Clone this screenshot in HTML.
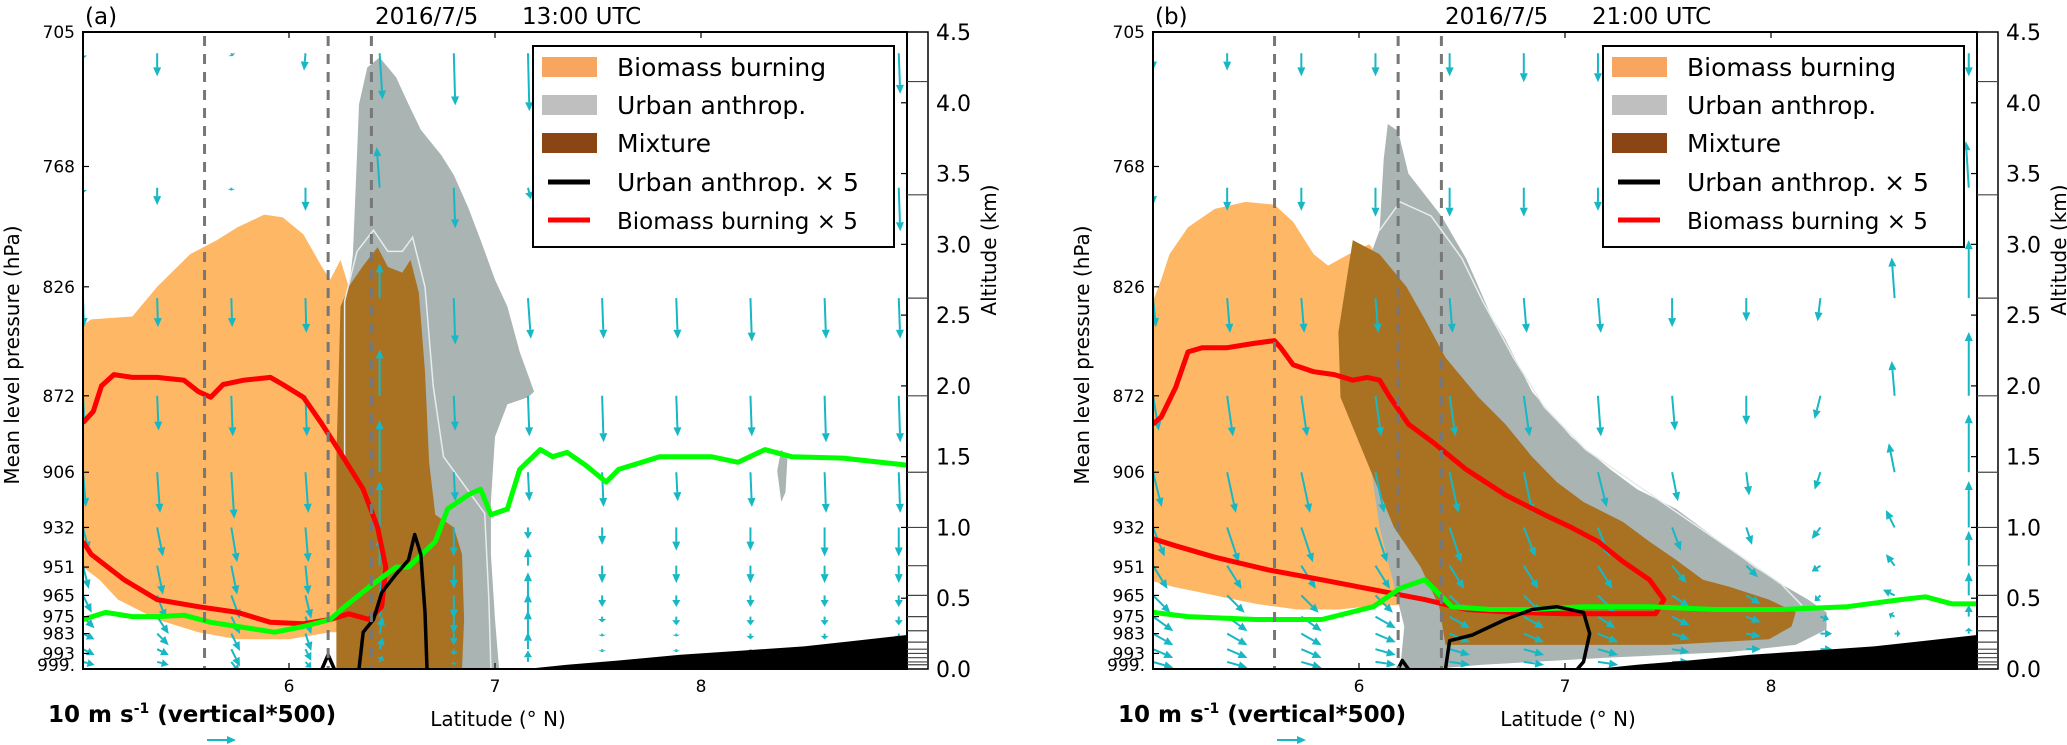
<!DOCTYPE html>
<html><head><meta charset="utf-8"><style>
html,body{margin:0;padding:0;background:#fff;}
svg{display:block;font-family:"DejaVu Sans","Liberation Sans",sans-serif;}
</style></head><body>
<svg id="fig" width="2067" height="745" viewBox="0 0 2067 745" xmlns="http://www.w3.org/2000/svg"></svg>
<script>
// ---------- data ----------
const pressureLabels = ["705","768","826","872","906","932","951","965","975","983","993","999."];
const pressureAlts = [4.5,3.55,2.70,1.93,1.39,1.0,0.72,0.52,0.37,0.25,0.11,0.0];
const altTicks = [0,0.5,1,1.5,2,2.5,3,3.5,4,4.5];
const altTickLabels = ["0.0","0.5","1.0","1.5","2.0","2.5","3.0","3.5","4.0","4.5"];
const latTicks = [6,7,8];
const modelLevels = [4.15,3.35,2.62,1.93,1.39,1.0,0.73,0.52,0.37,0.27,0.19,0.14,0.11,0.08,0.05,0.03];
const dashedLats = [5.59,6.19,6.40];
const windLats = [5.0,5.36,5.72,6.08,6.44,6.80,7.16,7.52,7.88,8.24,8.60,8.96];
const windAlts = [4.35,3.40,2.62,1.93,1.39,1.0,0.73,0.52,0.37,0.25,0.14,0.05];
const terrain = [[7.15,0],[7.35,0.03],[7.6,0.06],[7.9,0.10],[8.2,0.13],[8.5,0.16],[8.75,0.20],[9.0,0.24],[9.0,0]];

// panel a
const aOrange = [[5.0,2.43],[5.04,2.47],[5.24,2.49],[5.36,2.70],[5.52,2.93],[5.65,3.03],[5.75,3.12],[5.88,3.21],[5.97,3.19],[6.07,3.07],[6.16,2.84],[6.20,2.75],[6.25,2.89],[6.29,2.70],[6.31,2.29],[6.28,1.5],[6.27,0.26],[6.20,0.26],[6.0,0.21],[5.75,0.21],[5.56,0.26],[5.36,0.35],[5.17,0.49],[5.08,0.63],[5.0,0.72]];
const aGray = [[6.24,0],[6.26,1.5],[6.28,2.56],[6.31,2.93],[6.33,3.63],[6.34,3.99],[6.38,4.25],[6.44,4.32],[6.52,4.18],[6.58,3.99],[6.64,3.81],[6.74,3.63],[6.80,3.49],[6.87,3.26],[6.93,3.03],[7.00,2.75],[7.06,2.56],[7.12,2.24],[7.19,1.96],[7.16,1.92],[7.06,1.87],[7.00,1.64],[6.98,1.18],[6.98,0.81],[7.00,0.35],[7.02,0]];
const aGrayBlob = [[8.37,1.40],[8.39,1.55],[8.42,1.50],[8.41,1.25],[8.39,1.18]];
const aBrown = [[6.23,0],[6.23,1.5],[6.25,2.56],[6.29,2.70],[6.36,2.85],[6.43,2.98],[6.48,2.84],[6.55,2.80],[6.59,2.89],[6.63,2.66],[6.66,2.10],[6.68,1.46],[6.71,1.09],[6.80,1.00],[6.84,0.81],[6.85,0.35],[6.84,0]];
const aWhite = [[6.27,1.5],[6.27,2.6],[6.33,2.95],[6.41,3.1],[6.48,2.95],[6.55,2.95],[6.60,3.05],[6.66,2.7],[6.70,2.0],[6.75,1.5],[6.85,1.3],[6.95,1.1],[6.97,0.5],[6.98,0]];
const aRed = [[5.0,1.74],[5.05,1.82],[5.09,2.0],[5.15,2.08],[5.24,2.06],[5.36,2.06],[5.49,2.04],[5.56,1.96],[5.62,1.92],[5.68,2.01],[5.78,2.04],[5.91,2.06],[5.97,2.01],[6.07,1.92],[6.16,1.73],[6.24,1.55],[6.36,1.27],[6.43,1.0],[6.47,0.72],[6.45,0.44],[6.39,0.35],[6.29,0.39],[6.20,0.35],[6.07,0.32],[5.91,0.33],[5.75,0.40],[5.56,0.44],[5.36,0.49],[5.20,0.63],[5.04,0.81],[5.0,0.90]];
const aGreen = [[5.0,0.35],[5.11,0.40],[5.24,0.37],[5.36,0.37],[5.49,0.38],[5.62,0.33],[5.75,0.30],[5.93,0.26],[6.07,0.30],[6.20,0.35],[6.27,0.44],[6.39,0.58],[6.52,0.72],[6.58,0.72],[6.71,0.90],[6.77,1.13],[6.87,1.23],[6.93,1.27],[6.98,1.09],[7.06,1.13],[7.12,1.41],[7.22,1.55],[7.28,1.50],[7.35,1.53],[7.44,1.44],[7.54,1.32],[7.60,1.41],[7.80,1.50],[7.92,1.50],[8.05,1.50],[8.18,1.46],[8.31,1.55],[8.44,1.50],[8.69,1.49],[9.0,1.44]];
const aBlack1 = [[6.16,0],[6.19,0.10],[6.22,0]];
const aBlack2 = [[6.34,0],[6.36,0.26],[6.41,0.35],[6.45,0.54],[6.52,0.67],[6.58,0.77],[6.61,0.95],[6.64,0.81],[6.66,0.40],[6.67,0]];
const aWindW = [
[-2,-8,-1,-6,-16,-18,-20,-18,-17,-16,-16,-14],
[-2,-6,-1,-8,14,-14,-4,-12,-12,-14,-14,-15],
[-10,-10,-10,-12,12,-16,-14,-14,-14,-15,-14,-14],
[-10,-12,-14,-14,16,-12,-14,-16,-14,-14,-16,-16],
[-12,-14,-16,-14,18,-10,-10,-12,-10,-12,-14,-14],
[-8,-10,-12,-12,16,-10,-4,-6,-8,-8,-10,-10],
[-8,-10,-10,-10,10,-8,6,-6,-6,-6,-6,-6],
[-6,-8,-8,-8,8,-8,8,-4,-4,-4,-4,-4],
[-4,-6,-6,-6,6,-6,8,-2,-3,-3,-3,-3],
[-2,-4,-6,-6,6,-4,8,-1,-1,-2,-2,-2],
[-2,-2,-6,-4,4,-2,6,-1,-1,-1,-1,-1],
[-1,-1,-4,-2,2,-1,4,0,0,0,0,0]];
const aWindU = [
[0,0,0.5,-0.5,1,0.5,0.5,0.5,0.5,0.5,0.5,0.5],
[0,0,0,0,-1,0.5,1,0.5,0.5,0.5,0.5,0.5],
[0.3,0.3,0.3,0.3,0,0.5,1,0.5,0.5,0.5,0.5,0.5],
[0.5,0.5,0.5,0.5,0,0.5,0.5,0.5,0.5,0.5,0.5,0.5],
[1,1,1,1,0,0.5,0.5,0.5,0.5,0.5,0.5,0.5],
[2,2,2,1,0,0,0,0,0,0,0,0],
[2,2,2,1,0,0,0,0,0,0,0,0],
[3,3,3,2,1,0,0,0,0,0,0,0],
[4,4,3,2,1,0,0,0,0,0,0,0],
[4,4,3,2,1,0,0,0,0,0,0,0],
[4,4,3,2,1,0,0,0,0,0,0,0],
[4,4,3,2,1,0,0,0,0,0,0,0]];

// panel b
const bOrange = [[5.0,2.6],[5.04,2.75],[5.08,2.93],[5.17,3.12],[5.30,3.25],[5.45,3.30],[5.59,3.28],[5.68,3.16],[5.78,2.93],[5.85,2.85],[5.95,2.93],[6.05,3.0],[6.10,2.9],[6.2,2.5],[6.3,1.5],[6.4,0.8],[6.35,0.45],[6.1,0.45],[5.9,0.42],[5.7,0.42],[5.5,0.46],[5.3,0.52],[5.1,0.58],[5.0,0.62]];
const bGray = [[6.05,2.9],[6.10,3.1],[6.12,3.6],[6.14,3.85],[6.19,3.8],[6.24,3.5],[6.32,3.35],[6.40,3.2],[6.52,2.9],[6.58,2.7],[6.64,2.5],[6.71,2.33],[6.84,1.96],[7.03,1.64],[7.22,1.41],[7.35,1.27],[7.54,1.13],[7.67,0.99],[7.80,0.85],[7.92,0.72],[8.05,0.6],[8.18,0.49],[8.27,0.40],[8.27,0.28],[8.12,0.17],[7.80,0.12],[7.2,0.08],[6.6,0.03],[6.35,0],[6.20,0],[6.22,0.3],[6.1,1.0],[6.0,2.0]];
const bBrown = [[5.97,3.03],[6.10,2.93],[6.23,2.70],[6.32,2.47],[6.42,2.20],[6.58,1.92],[6.71,1.73],[6.84,1.50],[6.96,1.32],[7.09,1.18],[7.28,1.04],[7.41,0.90],[7.54,0.77],[7.67,0.63],[7.80,0.58],[7.99,0.49],[8.12,0.40],[8.1,0.3],[7.99,0.21],[7.5,0.17],[7.09,0.17],[6.42,0.17],[6.39,0.44],[6.30,0.72],[6.17,1.0],[6.04,1.46],[5.91,1.92],[5.90,2.38]];
const bWhite = [[6.1,3.1],[6.2,3.3],[6.35,3.2],[6.5,2.9],[6.6,2.6],[6.75,2.2],[6.9,1.85],[7.1,1.55],[7.35,1.3],[7.6,1.05],[7.85,0.8],[8.05,0.6],[8.15,0.45]];
const bRed = [[5.0,1.73],[5.04,1.78],[5.11,1.99],[5.17,2.24],[5.24,2.27],[5.36,2.27],[5.49,2.30],[5.59,2.32],[5.62,2.27],[5.68,2.15],[5.78,2.10],[5.88,2.08],[5.97,2.04],[6.04,2.06],[6.10,2.04],[6.15,1.92],[6.24,1.73],[6.36,1.60],[6.52,1.41],[6.71,1.23],[6.90,1.09],[7.03,1.0],[7.16,0.90],[7.28,0.76],[7.41,0.63],[7.48,0.49],[7.44,0.39],[7.28,0.39],[7.0,0.39],[6.75,0.40],[6.52,0.42],[6.32,0.49],[6.07,0.56],[5.82,0.63],[5.56,0.70],[5.30,0.79],[5.11,0.87],[5.0,0.92]];
const bGreen = [[5.0,0.40],[5.17,0.37],[5.5,0.35],[5.82,0.35],[6.07,0.44],[6.20,0.57],[6.32,0.63],[6.45,0.44],[6.64,0.42],[6.84,0.42],[7.09,0.44],[7.41,0.44],[7.73,0.42],[8.05,0.42],[8.37,0.44],[8.63,0.49],[8.75,0.51],[8.88,0.46],[9.0,0.46]];
const bBlack1 = [[6.19,0],[6.21,0.06],[6.24,0]];
const bBlack2 = [[6.42,0],[6.44,0.2],[6.55,0.24],[6.71,0.35],[6.84,0.42],[6.96,0.44],[7.09,0.40],[7.12,0.25],[7.09,0.05],[7.06,0]];
const bWindW = [
[-6,-6,-8,-8,-8,-10,-10,-8,-6,-6,-6,-8],
[-6,-8,-8,-10,-10,-10,-8,-6,-4,-4,-6,16],
[-10,-12,-12,-12,-12,-12,-12,-10,-8,-8,14,20],
[-12,-14,-14,-14,-14,-14,-14,-12,-10,-8,12,22],
[-12,-14,-14,-14,-14,-14,-12,-10,-8,-6,10,20],
[-10,-12,-12,-12,-12,-10,-10,-8,-6,-4,6,16],
[-8,-8,-8,-8,-8,-8,-8,-6,-4,-2,4,12],
[-6,-6,-6,-6,-6,-6,-6,-4,-3,-2,2,8],
[-5,-5,-5,-4,-4,-4,-4,-3,-2,-1,1,4],
[-4,-4,-4,-3,-3,-3,-3,-2,-1,0,0,2],
[-3,-3,-3,-2,-2,-2,-2,-1,0,0,0,1],
[-2,-2,-2,-1,-1,-1,-1,0,0,0,0,0]];
const bWindU = [
[0,0,0,0,0,0,0,0,0,0,0,0],
[0,0,0,0,0,0,0,0,0,0,0,-1],
[1,1,1,1,1,1,1,0,0,-1,-1,0],
[2,2,2,2,2,2,1,1,0,-2,-1,0],
[3,3,3,3,3,3,3,2,1,-2,-2,0],
[4,4,4,4,4,4,4,3,2,-3,-3,0],
[5,5,5,5,5,5,5,5,4,-3,-3,0],
[6,6,6,6,6,6,6,6,5,-2,-4,0],
[7,7,7,7,7,7,6,6,5,3,-2,0],
[7,7,7,7,7,7,7,6,5,4,2,0],
[7,7,7,7,7,7,7,6,5,4,3,1],
[7,7,7,7,7,7,7,6,5,4,3,1]];

// ---------- drawing ----------
const NS = "http://www.w3.org/2000/svg";
const svg = document.getElementById("fig");
function el(tag, attrs, parent){ const e=document.createElementNS(NS,tag); for(const k in attrs) e.setAttribute(k,attrs[k]); (parent||svg).appendChild(e); return e; }
const L=83, R=907, T=32, B=669, ALTMAX=4.5;
function axes(ox){ return { x: lat => ox+L+(lat-5)*(R-L)/4, y: alt => B-alt*(B-T)/ALTMAX }; }
function pts(arr, ax){ return arr.map(p=>ax.x(p[0]).toFixed(1)+","+ax.y(p[1]).toFixed(1)).join(" "); }

function panel(ox, tag, time, d){
  const ax = axes(ox);
  const g = el("g",{});
  
  
  const cid = "clip"+tag;
  const cp = el("clipPath",{id:cid}, g); el("rect",{x:ox+L,y:T,width:R-L,height:B-T},cp);
  const pg = el("g",{"clip-path":"url(#"+cid+")"}, g);

  const fills = [[d.orange,"#fdb765","biomass-area"],[d.gray,"#a9b4b3","urban-area"],[d.brown,"#a87222","mixture-area"]];
  fills.forEach(f=>{ const p=el("polygon",{points:pts(f[0],ax),fill:f[1]},pg);
    
     });
  if(d.blob){ const p=el("polygon",{points:pts(d.blob,ax),fill:"#a9b4b3"},pg);
    
     }
  const wl = el("polyline",{points:pts(d.white,ax),fill:"none",stroke:"#e8ecec","stroke-width":1.5},pg);
  
  

  // wind arrows
  const wg = el("g",{stroke:"#17b8c4",fill:"#17b8c4"},pg);
  
  
  const k = 2.9;
  windAlts.forEach((alt,ri)=>{ windLats.forEach((lat,ci)=>{
    const u=d.windU[ri][ci], w=d.windW[ri][ci];
    const x0=ax.x(lat), y0=ax.y(alt), dx=u*k, dy=-w*k, len=Math.hypot(dx,dy);
    if(len<1) return;
    const ux=dx/len, uy=dy/len, hl=Math.min(9,len*0.6), hw=4;
    const x1=x0+dx, y1=y0+dy, bx=x1-ux*hl, by=y1-uy*hl;
    el("line",{x1:x0,y1:y0,x2:bx,y2:by,"stroke-width":2},wg);
    el("polygon",{points:`${x1},${y1} ${bx-uy*hw},${by+ux*hw} ${bx+uy*hw},${by-ux*hw}`,stroke:"none"},wg);
  });});

  const lines = [[d.red,"#ff0000",5,"biomass-x5-line"],[d.green,"#00ff00",5,"pbl-height-line"],[d.black1,"#000",3.5,"urban-x5-line-small"],[d.black2,"#000",3.5,"urban-x5-line"]];
  lines.forEach(l=>{ const p=el("polyline",{points:pts(l[0],ax),fill:"none",stroke:l[1],"stroke-width":l[2],"stroke-linejoin":"round"},pg);
    
     });
  const tp = el("polygon",{points:pts(terrain,ax),fill:"#000"},pg);
  
  
  dashedLats.forEach(lat=>{ const l=el("line",{x1:ax.x(lat),x2:ax.x(lat),y1:T+4,y2:B,stroke:"#777","stroke-width":3,"stroke-dasharray":"10,8"},pg);
    
     });

  // frame
  const fr = el("rect",{x:ox+L,y:T,width:R-L,height:B-T,fill:"none",stroke:"#000","stroke-width":2},g);
  
  
  // altitude strip
  const st = el("rect",{x:ox+R,y:T,width:21,height:B-T,fill:"none",stroke:"#000","stroke-width":1.5},g);
  
  
  modelLevels.forEach(a=>el("line",{x1:ox+R,x2:ox+R+21,y1:ax.y(a),y2:ax.y(a),stroke:"#444","stroke-width":1.2},g));
  altTicks.forEach((a,i)=>{
    el("line",{x1:ox+R-6,x2:ox+R,y1:ax.y(a),y2:ax.y(a),stroke:"#000","stroke-width":1.2},g);
    const t=el("text",{x:ox+936,y:ax.y(a)+8,"font-size":22},g); t.textContent=altTickLabels[i];
    
    
  });
  pressureAlts.forEach((a,i)=>{
    el("line",{x1:ox+L,x2:ox+L+6,y1:ax.y(a),y2:ax.y(a),stroke:"#000","stroke-width":1.2},g);
    const yy = i===pressureAlts.length-1 ? ax.y(a)+2 : ax.y(a)+6;
    const t=el("text",{x:ox+L-8,y:yy,"font-size":17,"text-anchor":"end"},g); t.textContent=pressureLabels[i];
    
    
  });
  latTicks.forEach(v=>{
    el("line",{x1:ax.x(v),x2:ax.x(v),y1:B,y2:B-6,stroke:"#000","stroke-width":1.2},g);
    el("line",{x1:ax.x(v),x2:ax.x(v),y1:T,y2:T+6,stroke:"#000","stroke-width":1.2},g);
    const t=el("text",{x:ax.x(v),y:692,"font-size":17,"text-anchor":"middle"},g); t.textContent=String(v);
    
    
  });
  const yl=el("text",{transform:`translate(${ox+19},355) rotate(-90)`,"font-size":20,"text-anchor":"middle"},g); yl.textContent="Mean level pressure (hPa)";
  
  
  const yr=el("text",{transform:`translate(${ox+996},250) rotate(-90)`,"font-size":20,"text-anchor":"middle"},g); yr.textContent="Altitude (km)";
  
  
  const xl=el("text",{x:ox+498,y:726,"font-size":20,"text-anchor":"middle"},g); xl.textContent="Latitude (\u00b0 N)";
  
  
  const pl=el("text",{x:ox+85,y:24,"font-size":23},g); pl.textContent="("+tag+")";
  
  
  const t1=el("text",{x:ox+375,y:24,"font-size":23},g); t1.textContent="2016/7/5";
  
  
  const t2=el("text",{x:ox+522,y:24,"font-size":23},g); t2.textContent=time;
  
  
  // quiver key
  const qk=el("text",{x:ox+48,y:722,"font-size":23,"font-weight":"bold"},g);
  qk.innerHTML='10 m s<tspan dy="-9" font-size="14">-1</tspan><tspan dy="9"> (vertical*500)</tspan>';
  
  
  el("line",{x1:ox+207,x2:ox+228,y1:740,y2:740,stroke:"#17b8c4","stroke-width":2},g);
  el("polygon",{points:`${ox+236},740 ${ox+227},736 ${ox+227},744`,fill:"#17b8c4"},g);

  // legend
  const lg = el("g",{},g);
  
  
  el("rect",{x:ox+533,y:46,width:361,height:201,fill:"#fff",stroke:"#000","stroke-width":2},lg);
  const ent=[["patch","#f8a560","Biomass burning"],["patch","#bfbfbf","Urban anthrop."],["patch","#8b4513","Mixture"],["line","#000","Urban anthrop. \u00d7 5"],["line","#ff0000","Biomass burning \u00d7 5"]];
  const rows=[67,105,143,182,220];
  ent.forEach((e,i)=>{
    const ey=rows[i];
    if(e[0]==="patch") el("rect",{x:ox+542,y:ey-10,width:55,height:20,fill:e[1]},lg);
    else el("line",{x1:ox+548,x2:ox+590,y1:ey,y2:ey,stroke:e[1],"stroke-width":5},lg);
    const t=el("text",{x:ox+617,y:ey+9,"font-size":i===4?23:25},lg); t.textContent=e[2];
    
    
  });
}
panel(0,"a","13:00 UTC",{orange:aOrange,gray:aGray,blob:aGrayBlob,brown:aBrown,white:aWhite,red:aRed,green:aGreen,black1:aBlack1,black2:aBlack2,windU:aWindU,windW:aWindW});
panel(1070,"b","21:00 UTC",{orange:bOrange,gray:bGray,blob:null,brown:bBrown,white:bWhite,red:bRed,green:bGreen,black1:bBlack1,black2:bBlack2,windU:bWindU,windW:bWindW});
</script>
</body></html>
